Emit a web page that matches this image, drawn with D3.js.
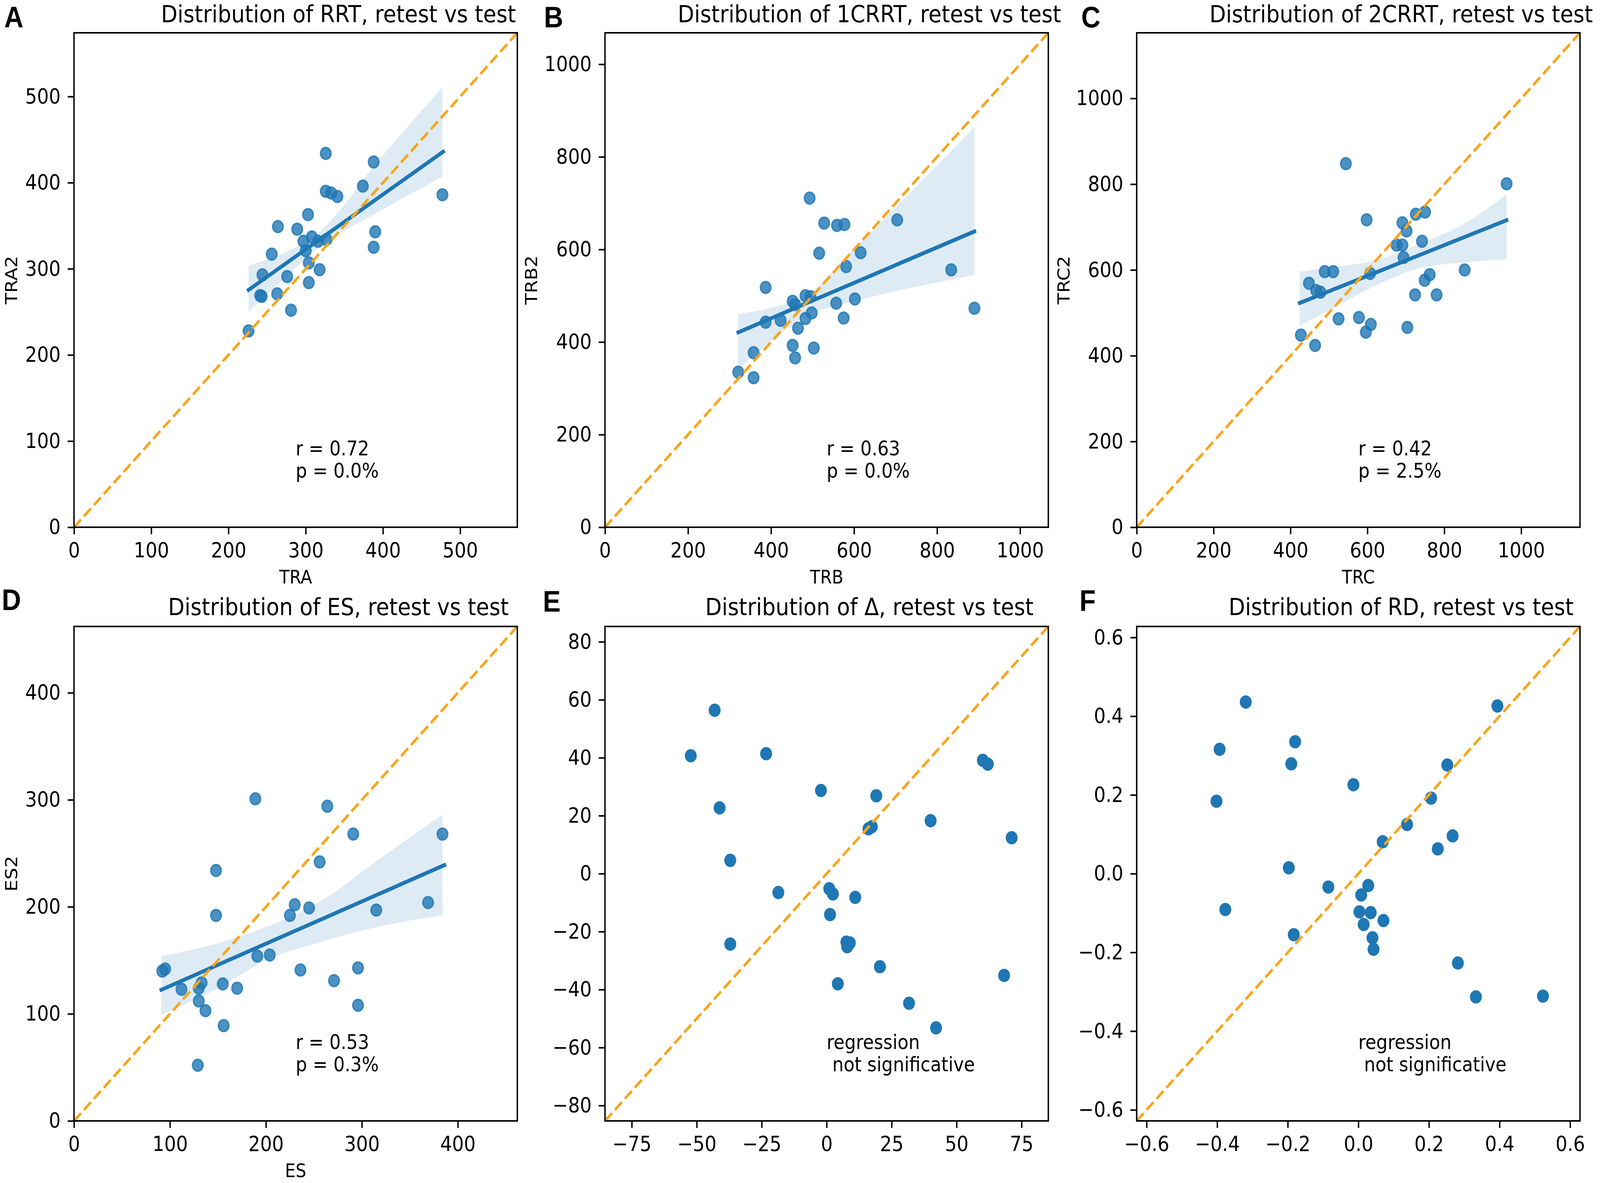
<!DOCTYPE html>
<html><head><meta charset="utf-8">
<script src="https://cdn.jsdelivr.net/npm/d3@7"></script>
<style>
html,body{margin:0;padding:0;background:#fff;overflow:hidden;width:100%;height:100%}
#chart{position:fixed;left:0;top:0;width:100vw;height:100vh;display:block}
text{font-family:'DejaVu Sans',sans-serif;fill:#000}
</style>
</head><body>
<svg id="chart" viewBox="0 0 4562 3029" preserveAspectRatio="none"></svg>
<script>
// ---------- DATA ----------
// A: RRT
const rrtTest   = [326,388,374,326,333,341,477,303,264,289,390,308,297,316,327,388,300,256,304,318,244,276,304,241,243,263,281,226];
const rrtRetest = [434,424,396,390,388,384,386,363,349,346,343,337,332,332,334,325,321,317,307,299,293,291,284,269,268,271,252,228];
const rrtFitX = [226,478], rrtFitY = [275.5,436];
const rrtBandX = [226,270,310,400,477], rrtBandLo = [250,287,320,369,407], rrtBandHi = [304,318,337,432,511];
const rrtLim = [0,574], rrtTicks = [0,100,200,300,400,500];

// B: 1CRRT
const c1Test   = [493,704,528,559,577,516,616,581,834,387,483,495,452,458,557,602,498,483,575,387,423,890,465,452,503,358,458,321,358];
const c1Retest = [711,664,657,652,654,592,593,563,556,518,500,498,488,481,484,493,463,451,452,443,447,473,430,393,387,377,366,335,323];
const c1FitX = [321,890], c1FitY = [421,639];
const c1BandX = [321,400,496,565,687,890], c1BandLo = [342,402,462,480,507,545], c1BandHi = [461,474,507,569,679,864];
const c1Lim = [0,1068], c1Ticks = [0,200,400,600,800,1000];

// C: 2CRRT
const c2Test   = [544,962,598,726,750,691,702,742,676,691,694,489,511,607,853,762,749,448,467,478,724,780,525,578,609,596,704,427,464];
const c2Retest = [848,801,717,730,735,710,691,667,658,658,629,596,596,592,600,589,576,569,552,548,542,542,486,489,473,455,466,448,424];
const c2FitX = [424,962], c2FitY = [523,716];
const c2BandX = [424,520,620,740,860,962], c2BandLo = [470,515,563,605,618,625], c2BandHi = [596,608,622,662,712,777];
const c2Lim = [0,1153], c2Ticks = [0,200,400,600,800,1000];

// D: ES
const esTest   = [189,264,291,384,256,148,230,245,225,148,315,369,191,204,236,296,92,95,133,155,271,112,130,170,130,137,296,156,129];
const esRetest = [301,294,268,268,242,234,202,199,192,192,197,204,154,155,141,143,140,142,129,128,131,123,124,124,112,103,108,89,52];
const esFitX = [91,386], esFitY = [122.5,239];
const esBandX = [91,150,200,260,320,384], esBandLo = [99,124,150,168,182,192], esBandHi = [154,166,181,207,246,286];
const esLim = [0,462], esTicks = [0,100,200,300,400];

// E: Delta
const dTest   = [-43.1,-52.3,-23.3,60.1,62.0,-2.2,19.1,-41.2,40.0,16.1,17.4,71.2,-37.1,-18.6,1.0,2.4,11.0,1.3,-37.1,7.6,8.9,7.9,20.5,68.3,4.3,31.7,42.1];
const dRetest = [56.4,40.7,41.4,39.1,37.8,28.7,26.9,22.7,18.3,15.5,16.2,12.4,4.6,-6.5,-5.2,-7.0,-8.2,-14.1,-24.3,-23.6,-23.9,-25.2,-32.1,-35.1,-38.0,-44.7,-53.2];
const dLim = [-85.3,85.3], dXTicks = [-75,-50,-25,0,25,50,75], dYTicks = [-80,-60,-40,-20,0,20,40,60,80];

// F: RD
const rdTest   = [-0.319,0.394,-0.393,-0.179,-0.190,0.252,-0.014,0.206,-0.402,0.138,0.267,0.069,0.225,-0.197,-0.085,0.028,0.008,-0.377,0.003,0.035,0.071,0.015,-0.183,0.040,0.043,0.282,0.333,0.523];
const rdRetest = [0.436,0.426,0.316,0.335,0.279,0.276,0.226,0.192,0.184,0.125,0.096,0.081,0.063,0.015,-0.034,-0.030,-0.054,-0.091,-0.097,-0.099,-0.119,-0.129,-0.155,-0.163,-0.192,-0.227,-0.313,-0.311];
const rdLim = [-0.628,0.628], rdTicks = [-0.6,-0.4,-0.2,0,0.2,0.4,0.6];

const letters = ["A","B","C","D","E","F"];
const titles = ["Distribution of RRT, retest vs test","Distribution of 1CRRT, retest vs test","Distribution of 2CRRT, retest vs test",
                "Distribution of ES, retest vs test","Distribution of \u0394, retest vs test","Distribution of RD, retest vs test"];
const xLabels = ["TRA","TRB","TRC","ES","",""];
const yLabels = ["TRA2","TRB2","TRC2","ES2","",""];
const notes = [["r = 0.72","p = 0.0%"],["r = 0.63","p = 0.0%"],["r = 0.42","p = 2.5%"],["r = 0.53","p = 0.3%"],
               ["regression"," not significative"],["regression"," not significative"]];

// ---------- LAYOUT ----------
const PW = 1264, PH = 1266;
const lefts = [211,1725,3241,211,1725,3241];
const tops  = [84,84,84,1604,1604,1604];
const titleDy = [-27,-27,-27,-29,-29,-29];
const letterPos = [[12,70],[1551,70],[3083,70],[5,1562],[1548,1566],[3078,1564]];
const yLabOff = [162,194,192,162,0,0];
const BLUE = "#1f77b4", ORANGE = "#f8a51c";

const panels = [
  {xs:rrtTest, ys:rrtRetest, lim:rrtLim, xt:rrtTicks, yt:rrtTicks, fmt:d3.format("d"), fit:[rrtFitX,rrtFitY], band:[rrtBandX,rrtBandLo,rrtBandHi], reg:true},
  {xs:c1Test, ys:c1Retest, lim:c1Lim, xt:c1Ticks, yt:c1Ticks, fmt:d3.format("d"), fit:[c1FitX,c1FitY], band:[c1BandX,c1BandLo,c1BandHi], reg:true},
  {xs:c2Test, ys:c2Retest, lim:c2Lim, xt:c2Ticks, yt:c2Ticks, fmt:d3.format("d"), fit:[c2FitX,c2FitY], band:[c2BandX,c2BandLo,c2BandHi], reg:true},
  {xs:esTest, ys:esRetest, lim:esLim, xt:esTicks, yt:esTicks, fmt:d3.format("d"), fit:[esFitX,esFitY], band:[esBandX,esBandLo,esBandHi], reg:true},
  {xs:dTest, ys:dRetest, lim:dLim, xt:dXTicks, yt:dYTicks, fmt:d3.format("d"), reg:false},
  {xs:rdTest, ys:rdRetest, lim:rdLim, xt:rdTicks, yt:rdTicks, fmt:d3.format(".1f"), reg:false}
];

const svg = d3.select("#chart");
svg.append("rect").attr("width",4562).attr("height",3029).attr("fill","#fff");
const defs = svg.append("defs");

panels.forEach((p,i) => {
  const L = lefts[i], T = tops[i];
  const g = svg.append("g").attr("transform",`translate(${L},${T})`);
  const x = d3.scaleLinear().domain(p.lim).range([0,PW]);
  const y = d3.scaleLinear().domain(p.lim).range([PH,0]);
  defs.append("clipPath").attr("id","clip"+i).append("rect").attr("width",PW).attr("height",PH);
  const plot = g.append("g").attr("clip-path",`url(#clip${i})`);

  const pts = p.xs.map((v,k)=>[v,p.ys[k]]);
  // scatter
  plot.selectAll("circle").data(pts).join("circle")
    .attr("cx",d=>x(d[0])).attr("cy",d=>y(d[1])).attr("r",15)
    .attr("fill",BLUE).attr("fill-opacity",p.reg?0.8:1)
    .attr("stroke",BLUE).attr("stroke-opacity",p.reg?0.8:1).attr("stroke-width",4);

  if (p.reg) {
    const [bx,lo,hi] = p.band;
    const bd = bx.map((v,k)=>({x:v,lo:lo[k],hi:hi[k]}));
    plot.append("path").datum(bd)
      .attr("d", d3.area().x(d=>x(d.x)).y0(d=>y(d.lo)).y1(d=>y(d.hi)).curve(d3.curveMonotoneX))
      .attr("fill",BLUE).attr("fill-opacity",0.15).attr("stroke","none");
    const fd = p.fit[0].map((v,k)=>[v,p.fit[1][k]]);
    plot.append("path").datum(fd)
      .attr("d", d3.line().x(d=>x(d[0])).y(d=>y(d[1])))
      .attr("fill","none").attr("stroke",BLUE).attr("stroke-width",10).attr("stroke-linecap","square");
  }
  // identity line
  plot.append("path").datum([[p.lim[0],p.lim[0]],[p.lim[1],p.lim[1]]])
    .attr("d", d3.line().x(d=>x(d[0])).y(d=>y(d[1])))
    .attr("fill","none").attr("stroke",ORANGE).attr("stroke-width",7).attr("stroke-dasharray","28 12");

  // axes
  const ax = g.append("g").attr("transform",`translate(0,${PH})`)
    .call(d3.axisBottom(x).tickValues(p.xt).tickFormat(p.fmt).tickSize(18).tickPadding(21));
  const ay = g.append("g")
    .call(d3.axisLeft(y).tickValues(p.yt).tickFormat(p.fmt).tickSize(18).tickPadding(20));
  [ax,ay].forEach(a=>{
    a.select(".domain").remove();
    a.selectAll(".tick line").attr("stroke","#000").attr("stroke-width",4);
    a.selectAll(".tick text").attr("font-family","DejaVu Sans").attr("font-size",53).attr("fill","#000");
  });
  // frame
  g.append("rect").attr("width",PW).attr("height",PH).attr("fill","none").attr("stroke","#000").attr("stroke-width",4);

  // annotation
  const nt = g.append("text").attr("font-size",51).style("white-space","pre");
  notes[i].forEach((s,k)=>{
    nt.append("tspan").attr("x",PW*0.5).attr("y",PH*(0.855+0.045*k)).text(s);
  });

  // title
  g.append("text").attr("x",PW/2+122).attr("y",titleDy[i]).attr("text-anchor","middle").attr("font-size",61).text(titles[i]);
  // axis labels
  if (xLabels[i]) g.append("text").attr("x",PW/2).attr("y",PH+144).attr("text-anchor","middle").attr("font-size",48).text(xLabels[i]);
  if (yLabels[i]) g.append("text").attr("transform",`translate(${-yLabOff[i]},${PH/2}) rotate(-90)`)
      .attr("text-anchor","middle").attr("font-size",48).text(yLabels[i]);
  // panel letter
  svg.append("text").attr("x",letterPos[i][0]).attr("y",letterPos[i][1])
    .style("font-family","'Liberation Sans',Arial,sans-serif").attr("font-weight","bold").attr("font-size",76).text(letters[i]);
});
</script>
</body></html>
